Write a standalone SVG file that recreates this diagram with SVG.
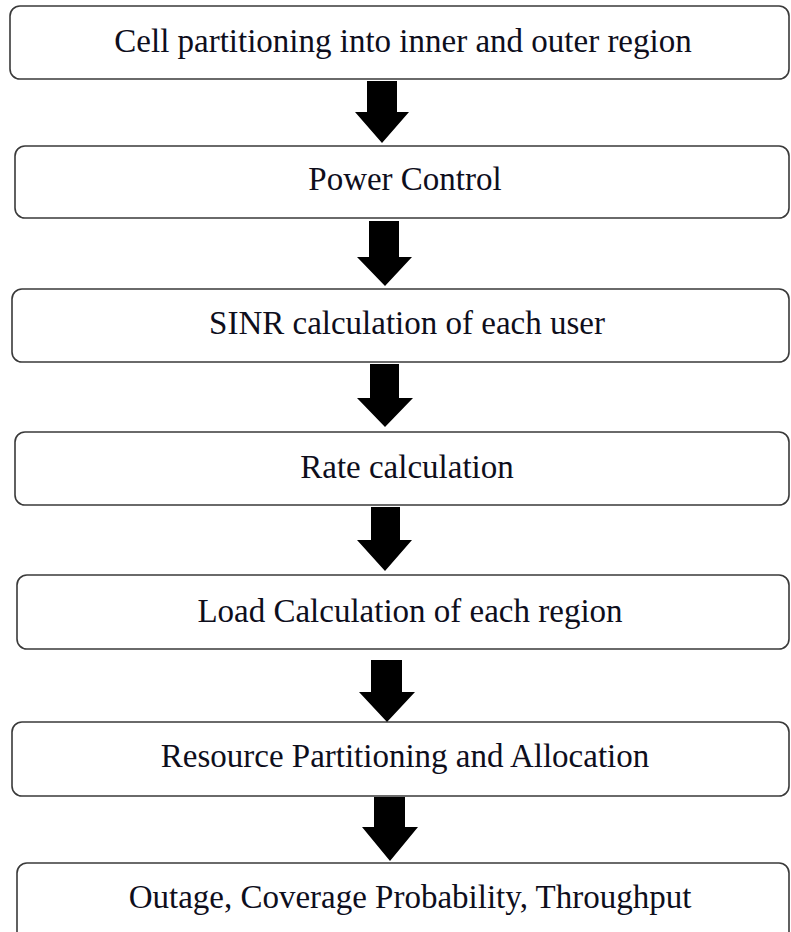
<svg xmlns="http://www.w3.org/2000/svg" width="791" height="932" viewBox="0 0 791 932">
  <style>
    .box { fill: #ffffff; stroke: #3a3a3a; stroke-width: 1.6; }
    .label { font-family: "Liberation Serif", "Times New Roman", serif; font-size: 33px; fill: #0e0e1c; text-anchor: middle; }
    .arrow { fill: #000000; }
  </style>
  <rect width="791" height="932" fill="#ffffff"/>

  <!-- process steps -->
  <g id="step-partitioning">
    <rect class="box" x="10" y="6" width="779" height="73" rx="10"/>
    <text class="label" x="403" y="52">Cell partitioning into inner and outer region</text>
  </g>
  <g id="step-power">
    <rect class="box" x="15" y="146" width="774" height="72" rx="10"/>
    <text class="label" x="405" y="190">Power Control</text>
  </g>
  <g id="step-sinr">
    <rect class="box" x="12" y="289" width="777" height="73" rx="10"/>
    <text class="label" x="407" y="334">SINR calculation of each user</text>
  </g>
  <g id="step-rate">
    <rect class="box" x="15" y="432" width="774" height="73" rx="10"/>
    <text class="label" x="407" y="478">Rate calculation</text>
  </g>
  <g id="step-load">
    <rect class="box" x="17" y="575" width="772" height="74" rx="10"/>
    <text class="label" x="410" y="622">Load Calculation of each region</text>
  </g>
  <g id="step-resource">
    <rect class="box" x="12" y="722" width="777" height="74" rx="10"/>
    <text class="label" x="405" y="767">Resource Partitioning and Allocation</text>
  </g>
  <g id="step-results">
    <rect class="box" x="17" y="863" width="772" height="82" rx="10"/>
    <text class="label" x="410" y="908">Outage, Coverage Probability, Throughput</text>
  </g>

  <!-- block arrows between steps -->
  <g id="connectors">
    <polygon class="arrow" points="367,81 397,81 397,112 409,112 382,143 355,112 367,112"/>
    <polygon class="arrow" points="369,221 399,221 399,257 412,257 385,286 357,257 369,257"/>
    <polygon class="arrow" points="370,364 399,364 399,398 413,398 385,427 357,398 370,398"/>
    <polygon class="arrow" points="371,507 400,507 400,540 412,540 385,571 357,540 371,540"/>
    <polygon class="arrow" points="371,660 402,660 402,692 415,692 387,722 359,692 371,692"/>
    <polygon class="arrow" points="374,797 405,797 405,827 418,827 390,861 362,827 374,827"/>
  </g>
</svg>
